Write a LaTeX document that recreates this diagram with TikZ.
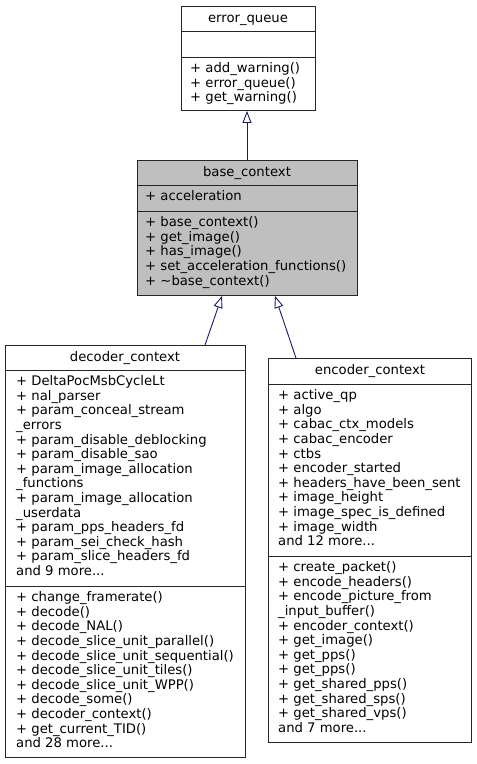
\documentclass[tikz,border=0pt]{standalone}
\usepackage{fontspec}
\setmainfont{DejaVu Sans}
\usetikzlibrary{arrows.meta,calc}
\definecolor{inherit}{HTML}{191970}

\begin{document}
\begin{tikzpicture}[x=1pt,y=-1pt,
    classbox/.style={draw=black!85, line width=0.9pt, anchor=north west, inner sep=0pt},
    divider/.style={draw=black!85, line width=0.9pt},
    members/.style={anchor=north west, align=left, inner sep=0pt, font=\fontsize{13.2}{14.6}\selectfont},
    title/.style={anchor=base, inner sep=0pt, font=\fontsize{13.2}{14.6}\selectfont},
    derives/.style={draw=inherit, line width=0.9pt, -{Triangle[open,length=12pt,width=9pt,fill=white]}}]
    \useasboundingbox (0,0) rectangle (477,764);

    % Draw error_queue
    \node[classbox, minimum width=134pt, minimum height=104pt] (eq) at (181,6) {};
    \draw[divider] (eq.west |- 0,31) -- (eq.east |- 0,31);
    \draw[divider] (eq.west |- 0,57) -- (eq.east |- 0,57);
    \node[title] (eq name) at (248,22) {error\_queue};
    \node[members] (eq ops) at (190,62.5) {+ add\_warning()\\+ error\_queue()\\+ get\_warning()};

    % Draw base_context
    \node[classbox, fill=black!25, minimum width=220pt, minimum height=135pt] (base) at (137,160) {};
    \draw[divider] (base.west |- 0,185) -- (base.east |- 0,185);
    \draw[divider] (base.west |- 0,211) -- (base.east |- 0,211);
    \node[title] (base name) at (247,176) {base\_context};
    \node[members] (base attr) at (145,190.5) {+ acceleration};
    \node[members] (base ops) at (145,216.5) {+ base\_context()\\+ get\_image()\\+ has\_image()\\+ set\_acceleration\_functions()\\+ \textasciitilde base\_context()};

    % Draw decoder_context
    \node[classbox, minimum width=240pt, minimum height=412pt] (dec) at (5,345) {};
    \draw[divider] (dec.west |- 0,370) -- (dec.east |- 0,370);
    \draw[divider] (dec.west |- 0,586) -- (dec.east |- 0,586);
    \node[title] (dec name) at (125,361) {decoder\_context};
    \node[members] (dec attr) at (16,375.5) {+ DeltaPocMsbCycleLt\\+ nal\_parser\\+ param\_conceal\_stream\\\_errors\\+ param\_disable\_deblocking\\+ param\_disable\_sao\\+ param\_image\_allocation\\\_functions\\+ param\_image\_allocation\\\_userdata\\+ param\_pps\_headers\_fd\\+ param\_sei\_check\_hash\\+ param\_slice\_headers\_fd\\and 9 more...};
    \node[members] (dec ops) at (16,591.5) {+ change\_framerate()\\+ decode()\\+ decode\_NAL()\\+ decode\_slice\_unit\_parallel()\\+ decode\_slice\_unit\_sequential()\\+ decode\_slice\_unit\_tiles()\\+ decode\_slice\_unit\_WPP()\\+ decode\_some()\\+ decoder\_context()\\+ get\_current\_TID()\\and 28 more...};

    % Draw encoder_context
    \node[classbox, minimum width=203pt, minimum height=384pt] (enc) at (268,358) {};
    \draw[divider] (enc.west |- 0,384) -- (enc.east |- 0,384);
    \draw[divider] (enc.west |- 0,556) -- (enc.east |- 0,556);
    \node[title] (enc name) at (370,374) {encoder\_context};
    \node[members] (enc attr) at (278,389.5) {+ active\_qp\\+ algo\\+ cabac\_ctx\_models\\+ cabac\_encoder\\+ ctbs\\+ encoder\_started\\+ headers\_have\_been\_sent\\+ image\_height\\+ image\_spec\_is\_defined\\+ image\_width\\and 12 more...};
    \node[members] (enc ops) at (278,561.5) {+ create\_packet()\\+ encode\_headers()\\+ encode\_picture\_from\\\_input\_buffer()\\+ encoder\_context()\\+ get\_image()\\+ get\_pps()\\+ get\_pps()\\+ get\_shared\_pps()\\+ get\_shared\_sps()\\+ get\_shared\_vps()\\and 7 more...};

    % Draw inheritance arrows
    \draw[derives] ($(base.north west)+(110,0)$) -- ($(eq.south west)+(66,0)$);
    \draw[derives] ($(dec.north west)+(200,0)$) -- ($(base.south west)+(85,0)$);
    \draw[derives] ($(enc.north west)+(28,0)$) -- ($(base.south west)+(138,0)$);
\end{tikzpicture}
\end{document}
